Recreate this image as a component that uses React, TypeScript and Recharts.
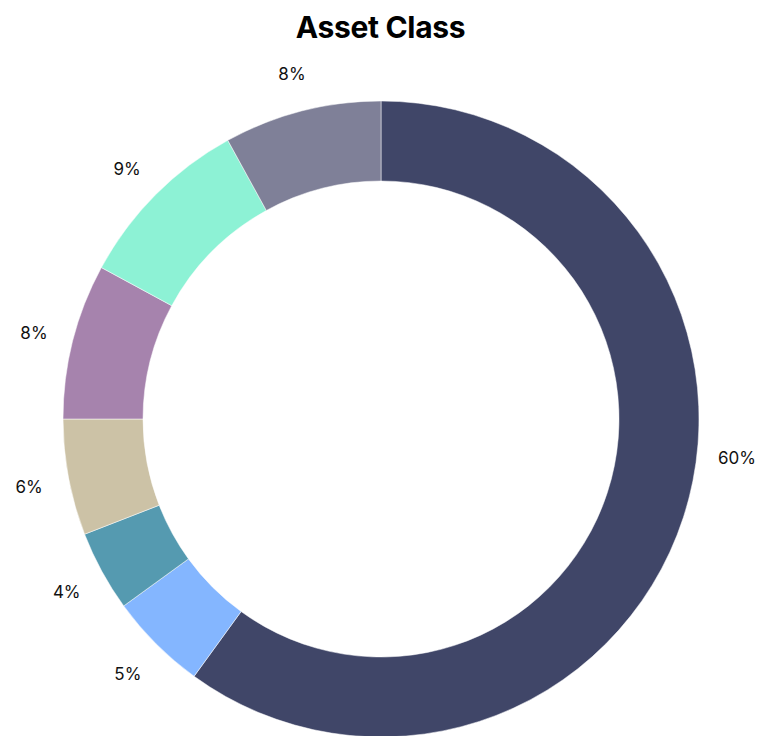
import React from "react";
import { PieChart, Pie, Cell } from "recharts";

const categories = ["A", "B", "C", "D", "E", "F", "G"];
const values = [60.0, 5.0, 4.1, 5.9, 7.9, 9.1, 8.0];
const labels = ["60%", "5%", "4%", "6%", "8%", "9%", "8%"];
const colors = ["#404668", "#84B6FF", "#559AB0", "#CCC2A6", "#A683AD", "#8DF2D5", "#7F8098"];

const data = categories.map((c, i) => ({ name: c, value: values[i], label: labels[i] }));

const RAD = Math.PI / 180;

const renderLabel = (props: any) => {
  const { cx, cy, midAngle, outerRadius, index, percent } = props;
  const angle = percent > 0.5 ? midAngle + 12 : midAngle;
  const r = outerRadius + 40;
  const x = cx + r * Math.cos(-angle * RAD);
  const y = cy + r * Math.sin(-angle * RAD) + 2;
  return (
    <text
      x={x}
      y={y}
      textAnchor="middle"
      dominantBaseline="central"
      fill="#111"
      fontSize={17}
      fontFamily="Inter, sans-serif"
    >
      {labels[index]}
    </text>
  );
};

export default function App() {
  return (
    <div style={{ position: "absolute", left: 0, top: 0, width: 761, height: 736, background: "#fff" }}>
      <div
        style={{
          position: "absolute",
          left: 0,
          top: 7,
          width: 761,
          textAlign: "center",
          fontFamily: "Inter, sans-serif",
          fontWeight: 700,
          fontSize: 30,
          lineHeight: "40px",
          color: "#000",
          letterSpacing: -0.3,
        }}
      >
        Asset Class
      </div>
      <PieChart
        width={761}
        height={736}
        margin={{ top: 0, right: 0, bottom: 0, left: 0 }}
        style={{ position: "absolute", left: 0, top: 0 }}
      >
        <Pie
          data={data}
          dataKey="value"
          nameKey="name"
          cx={381}
          cy={419}
          outerRadius={318}
          innerRadius={238}
          startAngle={90}
          endAngle={-270}
          stroke="#ffffff"
          strokeWidth={0.5}
          label={renderLabel}
          labelLine={false}
          isAnimationActive={false}
        >
          {data.map((d, i) => (
            <Cell key={d.name} fill={colors[i]} />
          ))}
        </Pie>
      </PieChart>
    </div>
  );
}
